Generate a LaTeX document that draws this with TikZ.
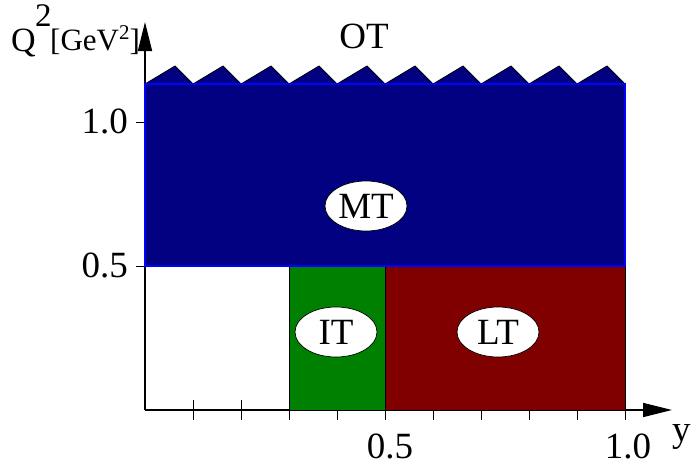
\documentclass[tikz,border=0pt]{standalone}
\usepackage{fontspec}
\setmainfont{Liberation Serif}
\usetikzlibrary{arrows.meta,shapes.geometric}
\definecolor{navy}{RGB}{0,0,128}
\definecolor{bline}{RGB}{0,0,255}
\definecolor{itgreen}{RGB}{0,128,0}
\definecolor{ltred}{RGB}{128,0,0}
\tikzset{
  axisline/.style={line width=1.5pt, -{Triangle[length=29pt,width=14pt]}},
  tickline/.style={line width=1pt},
  regionlabel/.style={ellipse, draw=black, line width=0.7pt, fill=white, minimum width=82pt, minimum height=50pt, inner sep=0pt, font=\fontsize{37}{40}\selectfont},
  bigtext/.style={inner sep=0pt, font=\fontsize{37}{40}\selectfont},
}
\begin{document}
\begin{tikzpicture}[x=1pt,y=-1pt]
\useasboundingbox (0,0) rectangle (691,466);
% axes
\coordinate (o) at (145,410);
\coordinate (xend) at (672,410);
\coordinate (yend) at (145,22);
\draw[axisline] (o) -- (xend);
\draw[axisline] (o) -- (yend);
% x ticks
\foreach \i in {1,...,10} {
  \draw[tickline] (145+48*\i,400) -- (145+48*\i,420);
}
% y ticks
\draw[tickline] (136,122.5) -- (150,122.5);
\draw[tickline] (136,266) -- (150,266);
% regions
\draw[fill=itgreen, draw=black, line width=0.6pt] (289,266) rectangle (385,410);
\draw[fill=ltred, draw=black, line width=0.6pt] (385,266) rectangle (625,410);
% zigzag top (OT)
\draw[fill=navy, draw=black, line width=0.8pt]
  (145,84)
  \foreach \k in {0,...,9} { -- (175+48*\k,66) -- (193+48*\k,84) } -- cycle;
\draw[fill=navy, draw=bline, line width=1.5pt] (145,84) rectangle (625,266);
% labels in regions
\node[regionlabel] (mt) at (366,206) {MT};
\node[regionlabel] (it) at (336,332) {IT};
\node[regionlabel] (lt) at (498,332) {LT};
\node[bigtext, anchor=base] (ot) at (364,48) {OT};
% axis numbers
\node[bigtext, anchor=base east] (y10) at (128,133) {1.0};
\node[bigtext, anchor=base east] (y05) at (128,277) {0.5};
\node[bigtext, anchor=base] (x05) at (390,458) {0.5};
\node[bigtext, anchor=base] (x10) at (628,458) {1.0};
\node[bigtext, anchor=base west] (ylab) at (672,441) {y};
% Q^2 label
\node[inner sep=0pt, anchor=base west, font=\fontsize{34}{36}\selectfont] (q) at (11,51) {Q};
\node[inner sep=0pt, anchor=base west, font=\fontsize{33}{36}\selectfont] (q2) at (35,26) {2};
\node[inner sep=0pt, anchor=base west, font=\fontsize{31}{34}\selectfont] (gev) at (50,50) {[GeV\raisebox{11pt}{\fontsize{21}{22}\selectfont 2}]};
\end{tikzpicture}
\end{document}
